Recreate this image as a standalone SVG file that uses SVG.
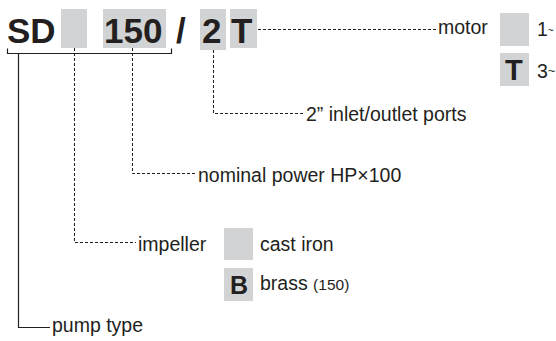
<svg xmlns="http://www.w3.org/2000/svg" width="556" height="341" viewBox="0 0 556 341">
<style>
.box{fill:#d1d3d4}
.big{font-family:"Liberation Sans",Arial,sans-serif;font-weight:bold;font-size:35px;fill:#231f20}
.lbl{font-family:"Liberation Sans",Arial,sans-serif;font-size:19.5px;fill:#231f20}
.key{font-family:"Liberation Sans",Arial,sans-serif;font-weight:bold;fill:#231f20}
.dash{fill:none;stroke:#231f20;stroke-width:1;stroke-dasharray:3 2}
.solid{fill:none;stroke:#231f20;stroke-width:1.2}
</style>
<rect width="556" height="341" fill="#fff"/>
<g id="code">
<text class="big" x="7" y="43">SD</text>
<rect class="box" x="61" y="9" width="26" height="39"/>
<rect class="box" x="103" y="9" width="63" height="39"/>
<text class="big" x="104" y="43">150</text>
<text class="big" x="176" y="43">/</text>
<rect class="box" x="200" y="9" width="26" height="41"/>
<text class="big" x="202" y="43">2</text>
<rect class="box" x="230" y="9" width="27" height="39"/>
<text class="big" x="231" y="43">T</text>
</g>
<g id="connectors">
<path class="solid" d="M7.5 48.5V53.5H171.5V48.5"/>
<path class="solid" d="M18.5 53.5V327.5H50"/>
<path class="dash" d="M74.5 48V242.5H136"/>
<path class="dash" d="M132.5 48V173.5H196"/>
<path class="dash" d="M213.5 50V113.5H304"/>
<path class="dash" d="M258 29.5H436"/>
</g>
<g id="motor">
<text class="lbl" x="438" y="33.5">motor</text>
<rect class="box" x="500" y="13" width="29" height="33"/>
<text class="lbl" x="537" y="35.7" font-size="13px">1<tspan font-size="10px" dy="-2">~</tspan></text>
<rect class="box" x="500" y="53" width="29" height="33"/>
<text class="key" x="505" y="80" font-size="29px">T</text>
<text class="lbl" x="537" y="77.5">3<tspan font-size="13px" dy="-3">~</tspan></text>
</g>
<g id="ports">
<text class="lbl" x="306" y="121">2” inlet/outlet ports</text>
</g>
<g id="power">
<text class="lbl" x="198" y="182">nominal power HP×100</text>
</g>
<g id="impeller">
<text class="lbl" x="138" y="250.5">impeller</text>
<rect class="box" x="224" y="228" width="29" height="32"/>
<text class="lbl" x="260" y="251">cast iron</text>
<rect class="box" x="224" y="268" width="29" height="33"/>
<text class="key" x="230" y="293.5" font-size="25px">B</text>
<text class="lbl" x="260" y="289.5">brass <tspan font-size="15.5px">(150)</tspan></text>
</g>
<g id="pumptype">
<text class="lbl" x="52" y="331.5">pump type</text>
</g>
</svg>
